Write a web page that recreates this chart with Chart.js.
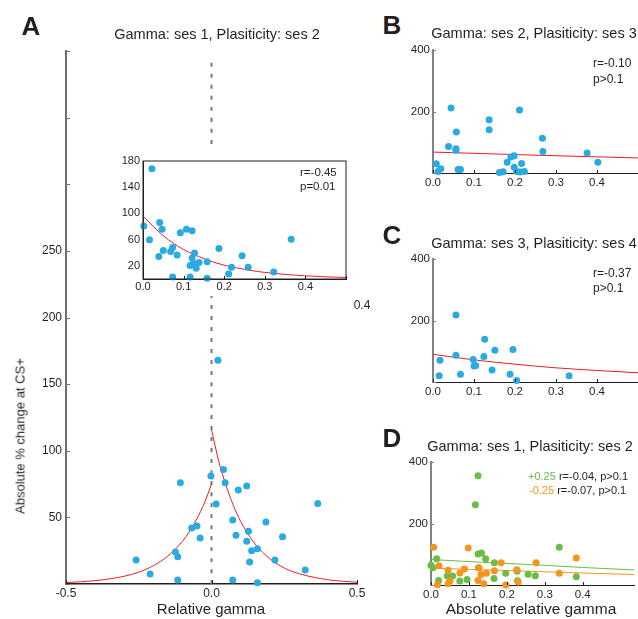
<!DOCTYPE html>
<html>
<head>
<meta charset="utf-8">
<script src="https://cdn.jsdelivr.net/npm/chart.js@4.4.1/dist/chart.umd.min.js"></script>
<style>
  body { margin: 0; width: 638px; height: 619px; position: relative; overflow: hidden; background: #fff;
         font-family: "Liberation Sans", Arial, sans-serif; color: #231f20; }
  canvas { position: absolute; }
  .t { position: absolute; white-space: nowrap; line-height: 1; transform: translate(-50%, -50%); }
  .l { position: absolute; white-space: nowrap; line-height: 1; transform: translateY(-50%); }
  .big { font-weight: bold; font-size: 26px; }
  .ttl { font-size: 14.5px; }
</style>
</head>
<body>
<canvas id="chartA" width="380" height="619" style="left:0;top:0"></canvas>
<canvas id="chartInset" width="245" height="148" style="left:110px;top:148px;background:#fff"></canvas>
<canvas id="chartB" width="262" height="150" style="left:380px;top:40px"></canvas>
<canvas id="chartC" width="262" height="150" style="left:380px;top:249px"></canvas>
<canvas id="chartD" width="258" height="150" style="left:380px;top:452px"></canvas>

<div class="t big" style="left:31px;top:26px">A</div>
<div class="t big" style="left:392px;top:25px">B</div>
<div class="t big" style="left:392px;top:235px">C</div>
<div class="t big" style="left:392px;top:438px">D</div>

<div class="t ttl" style="left:217px;top:34px">Gamma: ses 1, Plasiticity: ses 2</div>
<div class="t ttl" style="left:534px;top:33px">Gamma: ses 2, Plasiticity: ses 3</div>
<div class="t ttl" style="left:534px;top:243px">Gamma: ses 3, Plasiticity: ses 4</div>
<div class="t ttl" style="left:530px;top:446px">Gamma: ses 1, Plasiticity: ses 2</div>

<div class="l" style="left:300px;top:173px;font-size:11.5px">r=-0.45</div>
<div class="l" style="left:300px;top:187px;font-size:11.5px">p=0.01</div>
<div class="t" style="left:362px;top:305px;font-size:12px">0.4</div>
<div class="l" style="left:593px;top:63px;font-size:12px">r=-0.10</div>
<div class="l" style="left:593px;top:79px;font-size:12px">p&gt;0.1</div>
<div class="l" style="left:593px;top:273px;font-size:12px">r=-0.37</div>
<div class="l" style="left:593px;top:288px;font-size:12px">p&gt;0.1</div>
<div class="l" style="left:528px;top:476px;font-size:11px"><span style="color:#6abd45">+0.25</span> r=-0.04, p&gt;0.1</div>
<div class="l" style="left:529px;top:490px;font-size:11px"><span style="color:#f7941d">-0.25</span> r=-0.07, p&gt;0.1</div>

<div class="t" style="left:211px;top:608px;font-size:15px">Relative gamma</div>
<div class="t" style="left:531px;top:609px;font-size:15.5px">Absolute relative gamma</div>
<div class="t" style="left:20px;top:436px;font-size:13px;transform:translate(-50%,-50%) rotate(-90deg)">Absolute % change at CS+</div>

<script>
// ---- panel A : relative gamma (ses 1) vs absolute % change (ses 2)
const aGamma = [0.041, -0.002, -0.107, 0.047, 0.121, 0.092, 0.016, 0.365, 0.073, 0.187,
                -0.068, -0.05, 0.127, -0.039, 0.084, 0.244, 0.121, 0.158, 0.138, -0.124,
                -0.116, -0.259, 0.218, 0.131, 0.322, -0.211, -0.116, 0.073, 0.158, 0.022];
const aChange = [86, 81, 76, 76, 73.5, 70.5, 60, 60.5, 48, 46.5,
                 42, 43.5, 39.5, 34.5, 36.5, 35.5, 32, 26.5, 25, 24,
                 20.5, 18, 18, 16.5, 10.5, 7.5, 3, 3, 1, 168];
// fitted curve, positive and negative side
const aFitPosX = [0, 0.025, 0.05, 0.075, 0.1, 0.15, 0.2, 0.25, 0.3, 0.4, 0.5];
const aFitPosY = [116, 92, 74, 59, 47, 30, 19, 12, 7.8, 3.2, 1.3];
const aFitNegX = [0, -0.025, -0.05, -0.075, -0.1, -0.15, -0.2, -0.25, -0.3, -0.4, -0.5];
const aFitNegY = [75, 60.5, 49, 39.6, 32, 21, 13.7, 8.9, 5.8, 2.5, 1.1];
const aZeroX = [0, 0];
const aZeroY = [0, 395];
const aXTicks = [-0.5, 0, 0.5];
const aYTicks = [0, 50, 100, 150, 200, 250, 300, 350, 400];

// inset: absolute gamma
const insetFitX = [0, 0.05, 0.1, 0.15, 0.2, 0.25, 0.3, 0.4, 0.5];
const insetFitY = [96, 66, 45, 31, 21, 14.7, 10, 4.8, 2.3];
const insetXTicks = [0, 0.1, 0.2, 0.3, 0.4, 0.5];
const insetYTicks = [20, 60, 100, 140, 180];

// ---- panel B
const bGamma = [0.044, 0.211, 0.137, 0.137, 0.057, 0.267, 0.038, 0.056, 0.056, 0.268,
                0.376, 0.198, 0.19, 0.181, 0.216, 0.402, 0.008, 0.198, 0.019, 0.012,
                0.061, 0.067, 0.162, 0.171, 0.204, 0.212, 0.223];
const bChange = [211, 205, 173, 141, 133, 113, 86, 79, 74, 70,
                 65, 56, 52, 35, 31, 35, 30, 19, 14, 5,
                 11, 11, 2, 4, 5, 3, 5];
const bFitX = [0, 0.1, 0.2, 0.3, 0.4, 0.5];
const bFitY = [68, 64, 60, 56, 52.5, 49];

// ---- panel C
const cGamma = [0.056, 0.126, 0.151, 0.195, 0.056, 0.124, 0.017, 0.098, 0.1, 0.104,
                0.144, 0.067, 0.188, 0.015, 0.332, 0.204];
const cChange = [218, 139, 103, 106, 87, 83, 71, 73, 52, 54,
                 39, 25, 25, 20, 20, 5];
const cFitX = [0, 0.1, 0.2, 0.3, 0.4, 0.5];
const cFitY = [90, 72, 58, 46, 37.5, 30];

// ---- panel D : +0.25 (green) and -0.25 (orange)
const dPosGamma = [0.124, 0.117, 0.338, 0.124, 0.133, 0.015, 0.144, 0, 0.005, 0.167,
                   0.125, 0.197, 0.256, 0.275, 0.383, 0.227, 0.095, 0.02, 0.043, 0.057,
                   0.076, 0.166, 0.228];
const dPosChange = [355, 261, 123, 101, 104, 85, 85, 64, 56, 72,
                    56, 38, 35, 30, 27, 45, 18, 15, 29, 29,
                    13, 21, 14];
const dNegGamma = [0.007, 0.098, 0.383, 0.021, 0.277, 0.185, 0.127, 0.088, 0.045, 0.226,
                   0.167, 0.146, 0.132, 0.076, 0.338, 0.124, 0.05, 0.23, 0.017, 0.045,
                   0.139, 0.197];
const dNegChange = [123, 120, 88, 63, 72, 72, 55, 52, 48, 50,
                    46, 38, 34, 39, 38, 15, 14, 10, 1, 4,
                    4, 0];
const dFitX = [0, 0.1, 0.2, 0.3, 0.4, 0.535];
const dPosFitY = [83, 76, 70, 64, 57, 49];
const dNegFitY = [55, 51, 47, 43, 39, 34];

const sideXTicks = [0, 0.1, 0.2, 0.3, 0.4];
const sideYTicks = [0, 200, 400];

const BLUE = '#29abe2', RED = '#ed1c24', GREEN = '#6abd45', ORANGE = '#f7941d';

Chart.defaults.font.family = '"Liberation Sans", Arial, sans-serif';
Chart.defaults.color = '#231f20';
Chart.defaults.animation = false;
Chart.defaults.responsive = false;
Chart.defaults.devicePixelRatio = 1;
Chart.defaults.plugins.legend.display = false;
Chart.defaults.plugins.tooltip.enabled = false;

// short tick marks drawn inside the plot, and an optional box frame
const innerTicks = {
  id: 'innerTicks',
  afterDraw(chart, args, opts) {
    const ctx = chart.ctx, area = chart.chartArea;
    ctx.save();
    ctx.lineWidth = 1;
    (opts.axes || []).forEach(id => {
      const sc = chart.scales[id];
      ctx.strokeStyle = sc.options.border.color;
      sc.ticks.forEach(t => {
        const p = Math.round(sc.getPixelForValue(t.value)) + 0.5;
        ctx.beginPath();
        if (sc.isHorizontal()) { ctx.moveTo(p, area.bottom); ctx.lineTo(p, area.bottom - opts.len); }
        else { ctx.moveTo(area.left, p); ctx.lineTo(area.left + opts.len, p); }
        ctx.stroke();
      });
    });
    if (opts.frame) {
      ctx.strokeStyle = '#231f20';
      ctx.strokeRect(area.left, area.top, area.right - area.left, area.bottom - area.top);
    }
    ctx.restore();
  }
};

function pts(xs, ys) {
  return xs.map((x, i) => ({ x: x, y: ys[i] }));
}

function dots(xs, ys, color) {
  return { data: pts(xs, ys), backgroundColor: color, borderWidth: 0, pointRadius: 3.5, clip: false };
}

function curve(xs, ys, color, width, dash) {
  return { data: pts(xs, ys), showLine: true, borderColor: color, borderWidth: width || 1,
           borderDash: dash || [], pointRadius: 0, cubicInterpolationMode: 'monotone' };
}

function scale(min, max, tickVals, label, size, fontSize, color, width, pad) {
  return {
    type: 'linear', min: min, max: max,
    afterBuildTicks: s => { s.ticks = tickVals.map(v => ({ value: v })); },
    afterFit: s => { if (s.isHorizontal()) s.height = size; else s.width = size; },
    grid: { display: false, drawTicks: false },
    border: { display: true, color: color, width: width },
    ticks: { padding: pad, font: { size: fontSize }, color: '#231f20', callback: label,
             autoSkip: false, maxRotation: 0 }
  };
}

function makeChart(id, datasets, xs, ys, padding, tickOpts) {
  return new Chart(document.getElementById(id), {
    type: 'scatter',
    data: { datasets: datasets },
    options: {
      layout: { padding: padding },
      scales: { x: xs, y: ys },
      plugins: { innerTicks: tickOpts }
    },
    plugins: [innerTicks]
  });
}

const fix1 = v => v.toFixed(1);

// panel A main axes
makeChart('chartA', [
    dots(aGamma, aChange, BLUE),
    curve(aFitPosX, aFitPosY, RED, 1),
    curve(aFitNegX, aFitNegY, RED, 1),
    curve(aZeroX, aZeroY, '#77787b', 2, [4, 7])
  ],
  scale(-0.5, 0.5, aXTicks, fix1, 35, 12, '#231f20', 1.5, 2),
  scale(0, 400, aYTicks, v => (v >= 50 && v <= 250 ? String(v) : ''), 66, 12, '#6d6e71', 2, 4),
  { left: 0, top: 51, right: 23, bottom: 0 },
  { axes: ['x', 'y'], len: 4 });

// inset (absolute gamma)
makeChart('chartInset', [
    dots(aGamma.map(Math.abs), aChange, BLUE),
    curve(insetFitX, insetFitY, RED, 1)
  ],
  scale(0, 0.5, insetXTicks, v => (v < 0.45 ? fix1(v) : ''), 17, 11, '#231f20', 1, 1),
  scale(0, 180, insetYTicks, v => String(v), 33, 11, '#231f20', 1, 3),
  { left: 0, top: 13, right: 9, bottom: 0 },
  { axes: ['x'], len: 3, frame: true });

// panel B
makeChart('chartB', [
    dots(bGamma, bChange, BLUE),
    curve(bFitX, bFitY, RED, 1)
  ],
  scale(0, 0.5, sideXTicks, fix1, 17, 11.5, '#231f20', 1, 3),
  scale(0, 400, sideYTicks, v => (v > 0 ? String(v) : ''), 53, 11.5, '#808285', 2, 3),
  { left: 0, top: 10, right: 2, bottom: 0 },
  { axes: ['x', 'y'], len: 3 });

// panel C
makeChart('chartC', [
    dots(cGamma, cChange, BLUE),
    curve(cFitX, cFitY, RED, 1)
  ],
  scale(0, 0.5, sideXTicks, fix1, 17, 11.5, '#231f20', 1, 3),
  scale(0, 400, sideYTicks, v => (v > 0 ? String(v) : ''), 53, 11.5, '#808285', 2, 3),
  { left: 0, top: 10, right: 4, bottom: 0 },
  { axes: ['x', 'y'], len: 3 });

// panel D
makeChart('chartD', [
    dots(dNegGamma, dNegChange, ORANGE),
    dots(dPosGamma, dPosChange, GREEN),
    curve(dFitX, dPosFitY, GREEN, 1),
    curve(dFitX, dNegFitY, ORANGE, 1)
  ],
  scale(0, 0.535, sideXTicks, fix1, 17, 11.5, '#231f20', 1, 3),
  scale(0, 400, sideYTicks, v => (v > 0 ? String(v) : ''), 51, 11.5, '#808285', 2, 3),
  { left: 0, top: 10, right: 2, bottom: 0 },
  { axes: ['x', 'y'], len: 3 });
</script>
</body>
</html>
